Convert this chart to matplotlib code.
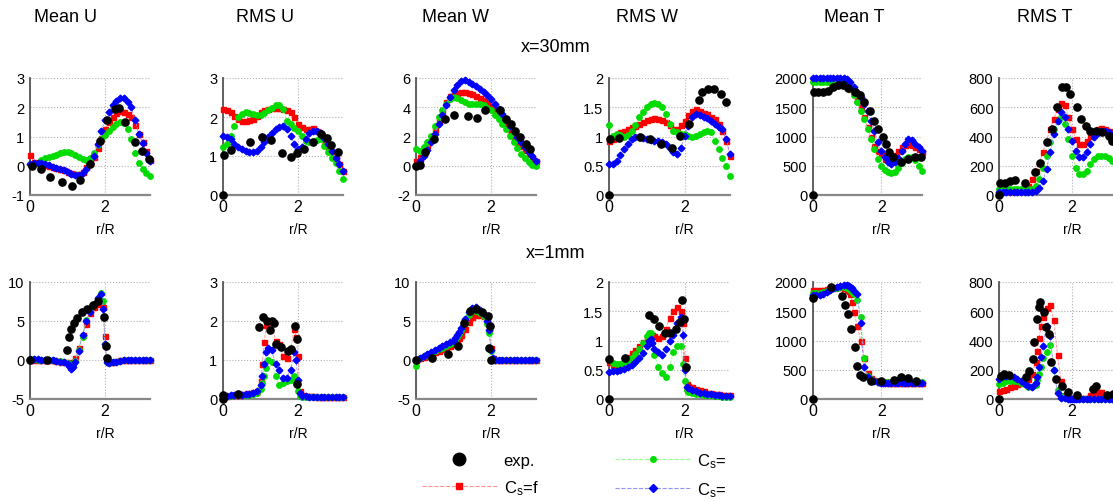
import numpy as np
import matplotlib
matplotlib.use("Agg")
import matplotlib.pyplot as plt
from matplotlib.lines import Line2D
from matplotlib.ticker import FuncFormatter

plt.rcParams["font.family"] = ["Liberation Sans", "DejaVu Sans"]
plt.rcParams["mathtext.default"] = "regular"

# radial positions of the simulation samples
r_top = np.round(np.arange(0, 3.21, 0.1), 2)
r_bot = [0, 0.1, 0.2, 0.3, 0.4, 0.5, 0.6, 0.7, 0.8, 0.9, 1.0, 1.05, 1.1, 1.15, 1.2,
         1.3, 1.4, 1.5, 1.6, 1.7, 1.8, 1.9, 1.95, 2.0, 2.05, 2.1,
         2.2, 2.3, 2.4, 2.5, 2.6, 2.7, 2.8, 2.9, 3.0, 3.1, 3.2]

titles = ["Mean U", "RMS U", "Mean W", "RMS W", "Mean T", "RMS T"]
row_labels = ["x=30mm", "x=1mm"]
legend_labels = ["exp.", "C$_s$=f", "C$_s$=", "C$_s$="]

#%% x = 30 mm
mu30_red = [0.38, 0.12, 0.08, 0.06, 0.03, 0.0, -0.03, -0.06, -0.1, -0.15, -0.2, -0.24, -0.28, -0.27, -0.2, -0.05,
            0.1, 0.3, 0.6, 0.95, 1.25, 1.5, 1.68, 1.8, 1.87, 1.85, 1.78, 1.65, 1.4, 1.1, 0.8, 0.5, 0.2]
mu30_green = [0.05, 0.05, 0.1, 0.18, 0.25, 0.3, 0.33, 0.38, 0.42, 0.46, 0.48, 0.45, 0.38, 0.3, 0.22, 0.2,
              0.25, 0.45, 0.7, 0.9, 1.05, 1.2, 1.32, 1.42, 1.49, 1.45, 1.25, 0.9, 0.45, 0.1, -0.1, -0.25, -0.35]
mu30_blue = [0.05, 0.08, 0.1, 0.1, 0.07, 0.02, -0.03, -0.07, -0.1, -0.16, -0.23, -0.28, -0.32, -0.31, -0.25, -0.11,
             0.1, 0.34, 0.75, 1.2, 1.55, 1.83, 2.06, 2.23, 2.31, 2.3, 2.18, 2.0, 1.58, 1.1, 0.78, 0.45, 0.15]
mu30_exp_r = [0.04, 0.28, 0.53, 0.84, 1.11, 1.33, 1.6, 1.87, 2.04, 2.27, 2.36, 2.53, 2.8, 2.98, 3.16]
mu30_exp = [0.0, -0.1, -0.37, -0.57, -0.69, -0.49, 0.06, 0.86, 1.55, 1.95, 1.97, 1.49, 0.8, 0.52, 0.23]

ru30_red = [2.21, 2.17, 2.12, 2.03, 1.95, 1.9, 1.9, 1.92, 1.95, 2.03, 2.12, 2.17, 2.21, 2.22, 2.23, 2.22,
            2.21, 2.17, 2.12, 2.0, 1.82, 1.74, 1.69, 1.7, 1.71, 1.65, 1.56, 1.42, 1.26, 1.11, 0.96, 0.8, 0.62]
ru30_green = [1.22, 1.3, 1.52, 1.78, 1.99, 2.08, 2.12, 2.1, 2.08, 2.06, 2.05, 2.1, 2.17, 2.24, 2.3, 2.31,
              2.21, 1.91, 1.82, 1.73, 1.65, 1.52, 1.39, 1.36, 1.35, 1.4, 1.44, 1.26, 1.09, 0.96, 0.83, 0.62, 0.4]
ru30_blue = [1.52, 1.5, 1.44, 1.32, 1.22, 1.17, 1.14, 1.1, 1.09, 1.14, 1.22, 1.35, 1.48, 1.6, 1.69, 1.75,
             1.78, 1.7, 1.52, 1.32, 1.18, 1.22, 1.44, 1.58, 1.65, 1.63, 1.59, 1.45, 1.31, 1.13, 0.96, 0.8, 0.62]
ru30_exp_r = [0, 0.03, 0.22, 0.71, 1.04, 1.27, 1.56, 1.8, 1.96, 2.16, 2.4, 2.6, 2.78, 2.89, 3.07]
ru30_exp = [0, 1.03, 1.16, 1.35, 1.5, 1.41, 1.07, 0.98, 1.07, 1.18, 1.37, 1.56, 1.45, 1.28, 1.11]

mw30_red = [0.3, 0.6, 0.92, 1.4, 1.95, 2.5, 3.1, 3.75, 4.36, 4.75, 4.93, 5.0, 5.05, 5.02, 4.98, 4.88,
            4.77, 4.62, 4.47, 4.28, 4.08, 3.88, 3.67, 3.3, 2.87, 2.4, 1.95, 1.65, 1.38, 1.1, 0.8, 0.55, 0.34]
mw30_green = [1.15, 1.03, 1.26, 1.65, 2.06, 2.7, 3.33, 3.8, 4.24, 4.55, 4.7, 4.6, 4.47, 4.35, 4.24, 4.22,
              4.24, 4.2, 4.13, 3.98, 3.78, 3.5, 3.21, 2.88, 2.52, 2.05, 1.6, 1.2, 0.8, 0.5, 0.23, 0.08, 0.0]
mw30_blue = [0.0, 0.35, 0.69, 1.1, 1.6, 2.2, 2.87, 3.5, 4.13, 4.7, 5.16, 5.5, 5.78, 5.85, 5.75, 5.62,
             5.45, 5.28, 5.05, 4.82, 4.55, 4.24, 3.9, 3.56, 3.15, 2.75, 2.35, 1.95, 1.6, 1.26, 0.95, 0.69, 0.34]
mw30_exp_r = [0, 0.1, 0.25, 0.49, 0.78, 1.0, 1.38, 1.63, 1.85, 2.25, 2.41, 2.53, 2.65, 2.78, 2.92, 3.05]
mw30_exp = [0, 0.05, 0.92, 1.83, 3.21, 3.49, 3.39, 3.26, 3.78, 3.78, 3.21, 2.87, 2.41, 1.95, 1.49, 1.15]

rw30_red = [0.92, 0.95, 1.04, 1.07, 1.1, 1.13, 1.16, 1.18, 1.21, 1.25, 1.29, 1.3, 1.31, 1.3, 1.29, 1.25,
            1.19, 1.13, 1.13, 1.19, 1.27, 1.36, 1.44, 1.47, 1.44, 1.41, 1.38, 1.34, 1.3, 1.22, 1.1, 0.93, 0.67]
rw30_green = [1.2, 1.01, 1.04, 1.03, 0.99, 1.02, 1.1, 1.2, 1.33, 1.42, 1.5, 1.55, 1.58, 1.56, 1.5, 1.39,
              1.21, 1.1, 1.07, 1.05, 1.04, 1.01, 0.99, 1.01, 1.04, 1.07, 1.1, 1.07, 0.93, 0.79, 0.64, 0.5, 0.33]
rw30_blue = [0.53, 0.53, 0.58, 0.68, 0.79, 0.88, 0.96, 0.99, 1.0, 0.98, 0.95, 0.94, 0.93, 0.92, 0.91, 0.87,
             0.81, 0.73, 0.7, 0.81, 1.01, 1.18, 1.33, 1.39, 1.36, 1.33, 1.31, 1.26, 1.21, 1.17, 1.13, 0.96, 0.7]
rw30_exp_r = [0, 0.02, 0.27, 0.82, 1.09, 1.38, 1.67, 1.89, 2.12, 2.38, 2.47, 2.61, 2.77, 2.95, 3.1]
rw30_exp = [0, 0.96, 0.97, 0.99, 0.96, 0.87, 0.81, 1.01, 1.21, 1.62, 1.76, 1.81, 1.81, 1.73, 1.59]

mt30_red = [1977, 1980, 1980, 1980, 1980, 1980, 1980, 1980, 1980, 1960, 1903, 1817, 1731, 1616, 1501, 1330,
            1158, 986, 842, 760, 700, 620, 590, 610, 680, 760, 820, 860, 875, 860, 820, 780, 740]
mt30_green = [1930, 1930, 1930, 1930, 1930, 1930, 1930, 1930, 1930, 1930, 1874, 1805, 1702, 1587, 1444, 1301,
              1129, 957, 785, 613, 499, 430, 395, 384, 400, 460, 540, 610, 655, 650, 590, 500, 413]
mt30_blue = [2000, 2000, 2000, 2000, 2000, 2000, 2000, 2000, 2000, 2000, 1990, 1930, 1845, 1760, 1673, 1560,
             1444, 1272, 1100, 900, 756, 642, 560, 527, 560, 640, 760, 880, 950, 940, 880, 820, 760]
mt30_exp_r = [0, 0.02, 0.15, 0.29, 0.44, 0.59, 0.73, 0.88, 1.02, 1.22, 1.37, 1.51, 1.66, 1.8, 1.9,
              2.05, 2.15, 2.24, 2.34, 2.59, 2.78, 2.98, 3.17]
mt30_exp = [0, 1760, 1760, 1760, 1771, 1845, 1874, 1885, 1828, 1760, 1702, 1587, 1444, 1272, 1129,
            986, 871, 728, 642, 556, 613, 642, 642]

rt30_red = [25, 25, 25, 25, 25, 25, 25, 25, 62, 108, 165, 222, 291, 372, 452, 521,
            589, 628, 612, 532, 452, 383, 349, 349, 372, 406, 433, 452, 456, 452, 440, 417, 394]
rt30_green = [40, 40, 40, 40, 40, 40, 40, 40, 40, 40, 62, 108, 188, 268, 360, 452,
              509, 532, 486, 383, 268, 188, 142, 142, 165, 211, 245, 264, 268, 264, 250, 234, 222]
rt30_blue = [20, 20, 20, 20, 20, 20, 20, 20, 20, 20, 28, 50, 96, 177, 291, 417,
             509, 567, 532, 452, 372, 303, 257, 257, 291, 349, 394, 424, 440, 440, 429, 411, 383]
rt30_exp_r = [0, 0.03, 0.17, 0.3, 0.44, 0.72, 0.99, 1.13, 1.31, 1.45, 1.59, 1.72, 1.84, 1.95,
              2.12, 2.23, 2.37, 2.5, 2.64, 2.83, 3.0, 3.1]
rt30_exp = [0, 85, 85, 96, 103, 85, 154, 222, 360, 452, 601, 738, 738, 693,
            601, 521, 475, 440, 440, 429, 406, 372]

#%% x = 1 mm
mu1_red = [0.05, 0.05, 0.05, 0.0, 0.0, -0.05, -0.05, -0.1, -0.15, -0.2, -0.3, -0.5, -0.5, -0.2, 0.2,
           1.5, 3.2, 4.6, 6.0, 6.8, 7.2, 7.4, 6.8, 3.1, -0.1, -0.3,
           -0.2, -0.1, -0.05, 0, 0, 0, 0, 0, 0, 0, 0]
mu1_green = [0.1, 0.1, 0.05, 0.05, 0.0, 0.0, -0.05, -0.1, -0.15, -0.25, -0.4, -0.6, -0.8, -0.6, -0.1,
             1.3, 3.0, 5.1, 6.3, 7.2, 8.0, 8.6, 7.6, 2.0, -0.2, -0.4,
             -0.3, -0.2, -0.1, 0, 0, 0, 0, 0, 0, 0, 0]
mu1_blue = [0.1, 0.1, 0.1, 0.05, 0.0, 0.0, -0.05, -0.1, -0.2, -0.3, -0.5, -0.8, -1.1, -0.9, -0.3,
            1.2, 3.2, 5.0, 6.2, 7.1, 7.9, 8.4, 6.5, 2.0, -0.2, -0.4,
            -0.3, -0.2, -0.1, 0, 0, 0, 0, 0, 0, 0, 0]
mu1_exp_r = [0, 0.44, 0.98, 1.05, 1.08, 1.17, 1.26, 1.38, 1.53, 1.69, 1.82, 1.96, 2.03, 2.04]
mu1_exp = [0, 0, 1.3, 2.9, 4.0, 4.8, 5.4, 6.1, 6.6, 7.1, 7.6, 5.5, 1.8, 0.2]

ru1_red = [0.07, 0.08, 0.09, 0.1, 0.11, 0.12, 0.13, 0.15, 0.17, 0.2, 0.45, 0.9, 1.45, 1.9, 2.0,
           2.0, 1.5, 1.4, 1.1, 1.05, 1.25, 1.8, 1.6, 1.1, 0.2, 0.1,
           0.08, 0.07, 0.07, 0.06, 0.06, 0.05, 0.05, 0.05, 0.05, 0.05, 0.05]
ru1_green = [0.08, 0.08, 0.08, 0.09, 0.09, 0.1, 0.1, 0.11, 0.12, 0.15, 0.25, 0.4, 0.6, 0.8, 1.0,
             0.95, 0.6, 0.35, 0.4, 0.45, 0.5, 0.6, 0.5, 0.2, 0.08, 0.06,
             0.05, 0.05, 0.05, 0.05, 0.05, 0.05, 0.05, 0.05, 0.05, 0.05, 0.05]
ru1_blue = [0.08, 0.08, 0.09, 0.1, 0.1, 0.11, 0.12, 0.14, 0.16, 0.2, 0.35, 0.6, 0.9, 1.2, 1.3,
            1.25, 0.9, 0.75, 0.55, 0.55, 0.75, 1.2, 1.0, 0.5, 0.15, 0.08,
            0.07, 0.06, 0.06, 0.05, 0.05, 0.05, 0.05, 0.05, 0.05, 0.05, 0.05]
ru1_exp_r = [0, 0.0, 0.39, 0.97, 1.06, 1.17, 1.24, 1.3, 1.37, 1.42, 1.55, 1.73, 1.82, 1.93, 1.96, 1.98]
ru1_exp = [0, 0.1, 0.13, 1.84, 2.11, 2.01, 1.78, 2.01, 1.95, 1.41, 1.33, 1.24, 1.29, 1.86, 1.54, 0.39]

mw1_red = [0, 0.2, 0.4, 0.6, 0.8, 1.0, 1.2, 1.4, 1.6, 1.85, 2.1, 2.3, 2.5, 2.8, 3.2,
           4.0, 4.9, 5.5, 5.8, 5.8, 5.6, 5.1, 4.0, 1.5, 0.2, 0.05,
           0, 0, 0, 0, 0, 0, 0, 0, 0, 0, 0]
mw1_green = [-0.8, 0.2, 0.45, 0.7, 0.9, 1.15, 1.4, 1.6, 1.85, 2.1, 2.3, 2.6, 2.9, 3.3, 3.8,
             4.8, 5.8, 6.3, 6.3, 6.0, 5.6, 4.6, 3.4, 1.2, 0.15, 0.05,
             0, 0, 0, 0, 0, 0, 0, 0, 0, 0, 0]
mw1_blue = [0, 0.25, 0.5, 0.75, 1.0, 1.25, 1.5, 1.75, 2.0, 2.25, 2.5, 2.8, 3.2, 3.6, 4.1,
            5.3, 6.1, 6.7, 6.8, 6.4, 5.9, 5.0, 3.8, 1.3, 0.2, 0.05,
            0, 0, 0, 0, 0, 0, 0, 0, 0, 0, 0]
mw1_exp_r = [0, 0.43, 0.84, 1.11, 1.27, 1.45, 1.61, 1.76, 1.91, 1.98, 1.94, 2.0]
mw1_exp = [0, 0.3, 0.8, 1.8, 4.8, 6.3, 6.6, 6.2, 5.6, 4.3, 1.6, 0]

rw1_red = [0.63, 0.58, 0.57, 0.6, 0.66, 0.72, 0.78, 0.84, 0.9, 0.97, 1.04, 1.07, 1.1, 1.1, 1.08,
           1.05, 1.08, 1.2, 1.38, 1.5, 1.57, 1.5, 1.3, 0.7, 0.25, 0.22,
           0.2, 0.17, 0.15, 0.13, 0.11, 0.1, 0.09, 0.08, 0.07, 0.07, 0.06]
rw1_green = [0.68, 0.62, 0.6, 0.6, 0.62, 0.65, 0.7, 0.77, 0.85, 0.95, 1.08, 1.13, 1.12, 0.95, 0.75,
             0.55, 0.45, 0.38, 0.55, 0.8, 0.9, 0.9, 0.6, 0.3, 0.15, 0.12,
             0.1, 0.09, 0.08, 0.07, 0.06, 0.06, 0.05, 0.05, 0.04, 0.04, 0.04]
rw1_blue = [0.47, 0.48, 0.48, 0.5, 0.52, 0.55, 0.58, 0.63, 0.7, 0.78, 0.9, 1.0, 1.02, 0.95, 0.85,
            0.8, 0.75, 0.85, 1.0, 1.1, 1.3, 1.4, 1.1, 0.5, 0.2, 0.18,
            0.15, 0.13, 0.11, 0.1, 0.09, 0.08, 0.07, 0.06, 0.05, 0.05, 0.05]
rw1_exp_r = [0, 0, 0.41, 1.06, 1.2, 1.31, 1.49, 1.62, 1.76, 1.89, 1.94, 1.98, 2.03]
rw1_exp = [0, 0.69, 0.7, 1.43, 1.36, 1.24, 1.13, 1.13, 1.19, 1.31, 1.7, 1.36, 0.54]

mt1_red = [1857, 1860, 1865, 1870, 1880, 1890, 1900, 1910, 1915, 1900, 1870, 1850, 1800, 1650, 1480,
           1250, 1000, 700, 450, 360, 320, 300, 295, 290, 285, 285,
           280, 280, 280, 280, 280, 280, 280, 280, 280, 280, 280]
mt1_green = [1820, 1815, 1820, 1830, 1850, 1870, 1890, 1905, 1915, 1915, 1900, 1880, 1860, 1830, 1790,
             1700, 1400, 700, 400, 340, 310, 295, 290, 285, 285, 285,
             285, 285, 285, 285, 285, 285, 285, 285, 285, 285, 285]
mt1_blue = [1780, 1770, 1780, 1800, 1830, 1860, 1890, 1910, 1925, 1945, 1950, 1940, 1920, 1890, 1850,
            1800, 1300, 550, 370, 330, 300, 290, 285, 280, 280, 280,
            280, 280, 280, 280, 280, 280, 280, 280, 280, 280, 280]
mt1_exp_r = [0, 0, 0.54, 0.85, 0.95, 1.04, 1.12, 1.22, 1.3, 1.37, 1.46, 1.71, 2.0, 2.39, 2.59, 2.8, 3.02]
mt1_exp = [0, 1730, 1914, 1760, 1611, 1457, 1200, 886, 571, 411, 371, 314, 314, 326, 371, 354, 314]

rt1_red = [55, 60, 70, 80, 90, 100, 110, 120, 140, 170, 250, 330, 420, 500, 560,
           620, 640, 540, 300, 120, 30, 10, 8, 5, 5, 5,
           5, 5, 10, 25, 40, 50, 45, 25, 10, 5, 5]
rt1_green = [100, 110, 120, 125, 125, 120, 110, 100, 85, 80, 95, 130, 170, 220, 280,
             320, 370, 200, 60, 20, 10, 5, 3, 2, 2, 2,
             2, 2, 2, 2, 2, 2, 2, 2, 2, 2, 2]
rt1_blue = [140, 155, 160, 160, 150, 135, 120, 105, 90, 85, 110, 150, 220, 290, 360,
            500, 430, 200, 40, 10, 5, 3, 2, 2, 2, 2,
            2, 2, 2, 2, 2, 2, 2, 2, 2, 2, 2]
rt1_exp_r = [0, 0.05, 0.14, 0.28, 0.74, 0.83, 0.92, 0.97, 1.03, 1.09, 1.12, 1.22, 1.29, 1.36, 1.43,
             1.57, 1.71, 1.89, 2.12, 2.58, 2.65, 2.95, 3.12]
rt1_exp = [0, 160, 171, 165, 149, 194, 274, 389, 549, 629, 663, 594, 491, 446, 251,
           137, 91, 46, 27, 69, 87, 27, 34]

top_data = [
    (mu30_red, mu30_green, mu30_blue, mu30_exp_r, mu30_exp),
    (ru30_red, ru30_green, ru30_blue, ru30_exp_r, ru30_exp),
    (mw30_red, mw30_green, mw30_blue, mw30_exp_r, mw30_exp),
    (rw30_red, rw30_green, rw30_blue, rw30_exp_r, rw30_exp),
    (mt30_red, mt30_green, mt30_blue, mt30_exp_r, mt30_exp),
    (rt30_red, rt30_green, rt30_blue, rt30_exp_r, rt30_exp),
]
bot_data = [
    (mu1_red, mu1_green, mu1_blue, mu1_exp_r, mu1_exp),
    (ru1_red, ru1_green, ru1_blue, ru1_exp_r, ru1_exp),
    (mw1_red, mw1_green, mw1_blue, mw1_exp_r, mw1_exp),
    (rw1_red, rw1_green, rw1_blue, rw1_exp_r, rw1_exp),
    (mt1_red, mt1_green, mt1_blue, mt1_exp_r, mt1_exp),
    (rt1_red, rt1_green, rt1_blue, rt1_exp_r, rt1_exp),
]

top_y = [(-1, 3, 1), (0, 3, 1), (-2, 6, 2), (0, 2, 0.5), (0, 2000, 500), (0, 800, 200)]
bot_y = [(-5, 10, 5), (0, 3, 1), (-5, 10, 5), (0, 2, 0.5), (0, 2000, 500), (0, 800, 200)]

#%% layout (pixels)
W, H = 1113, 502
lefts = [30, 223, 416, 609, 813, 999]
widths = [120, 120, 120, 121, 109, 117]
row_tops = [79, 283]
ax_h = 117
xmax = 3.2

RED, GREEN, BLUE = "#ff0000", "#00dc00", "#0000ff"
sim_styles = [
    dict(marker="s", color="#ff9090", mfc=RED, mec=RED),
    dict(marker="o", color="#90ff90", mfc=GREEN, mec=GREEN),
    dict(marker="D", color="#9090ff", mfc=BLUE, mec=BLUE),
]

fig = plt.figure(figsize=(W / 100, H / 100), dpi=100)
fmt = FuncFormatter(lambda v, p: "%g" % v)

for row, (data, ylims, r) in enumerate([(top_data, top_y, r_top), (bot_data, bot_y, r_bot)]):
    for c in range(6):
        red, green, blue, ex_r, ex_v = data[c]
        lo, hi, step = ylims[c]
        ax = fig.add_axes([lefts[c] / W, 1 - (row_tops[row] + ax_h) / H, widths[c] / W, ax_h / H])
        for vals, st, ms in zip([red, green, blue], sim_styles, [3.6, 3.9, 3.4]):
            ax.plot(r, vals, ls="--", lw=0.6, ms=ms, clip_on=False, zorder=3, **st)
        ax.plot(ex_r, ex_v, "o", color="k", ms=5.2, clip_on=False, zorder=4)
        ax.set_xlim(0, xmax)
        ax.set_ylim(lo, hi)
        ax.set_xticks([0, 2])
        ax.set_yticks(np.arange(lo, hi + step / 2, step))
        ax.yaxis.set_major_formatter(fmt)
        ax.grid(True, ls=":", color="#b0b0b0", lw=0.8)
        for s in ["top", "right"]:
            ax.spines[s].set_visible(False)
        ax.spines["left"].set_color("#555555")
        ax.spines["bottom"].set_color("#888888")
        ax.spines["left"].set_linewidth(1.3)
        ax.spines["bottom"].set_linewidth(1.6)
        ax.tick_params(axis="x", length=0, pad=3, labelsize=11.5)
        ax.tick_params(axis="y", length=0, pad=4, labelsize=10.5)
        ax.set_xlabel("r/R", fontsize=10)
        ax.xaxis.set_label_coords(2 / xmax, -34 / ax_h)
        ax.xaxis.label.set_va("center")

title_x = [65, 265, 456, 647, 854, 1045]
for t, x in zip(titles, title_x):
    fig.text(x / W, 1 - 18 / H, t, ha="center", va="center", fontsize=13)
fig.text(556 / W, 1 - 47 / H, row_labels[0], ha="center", va="center", fontsize=13)
fig.text(556 / W, 1 - 254 / H, row_labels[1], ha="center", va="center", fontsize=13)

handles = [Line2D([], [], ls="none", marker="o", color="k", ms=9)]
for st in sim_styles:
    handles.append(Line2D([], [], ls="--", lw=0.8, ms=4, **st))
fig.legend(handles, legend_labels, loc="center", bbox_to_anchor=(574 / W, 1 - 476 / H), ncol=2,
           frameon=False, fontsize=12, handlelength=4.5, handletextpad=0.4, columnspacing=4.6,
           labelspacing=0.6)

plt.savefig("out.png", dpi=100)
